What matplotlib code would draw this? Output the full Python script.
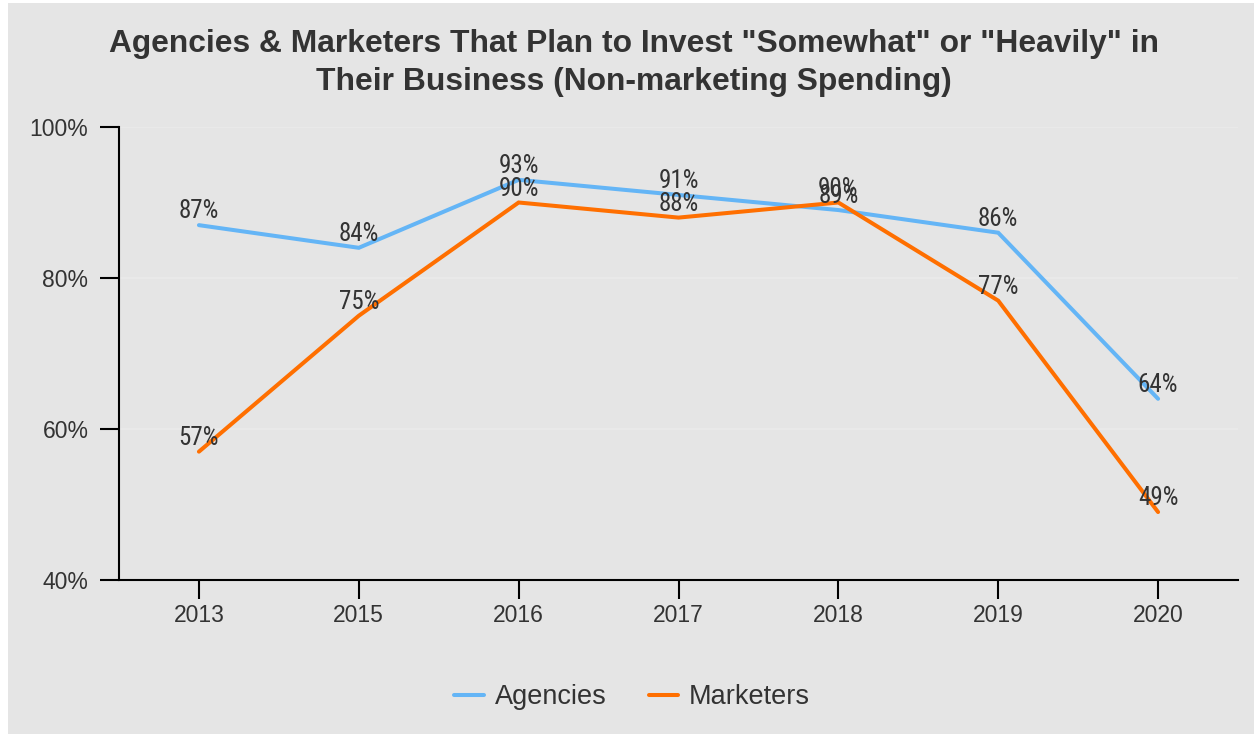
import matplotlib
matplotlib.use("Agg")
import matplotlib.pyplot as plt
from matplotlib import font_manager as fm
from matplotlib.patches import Rectangle

years = ["2013", "2015", "2016", "2017", "2018", "2019", "2020"]
agencies = [87, 84, 93, 91, 89, 86, 64]
marketers = [57, 75, 90, 88, 90, 77, 49]
y_ticks = [40, 60, 80, 100]
y_tick_labels = ["40%", "60%", "80%", "100%"]

BLUE = "#64b5f6"
ORANGE = "#ff6f00"
TEXT = "#333333"
BG = "#e5e5e5"

# pick a narrow face for the point labels
names = {f.name for f in fm.fontManager.ttflist}
label_family = "DejaVu Sans"
label_stretch = "normal"
for cand in ["Roboto Condensed", "Liberation Sans Narrow", "Open Sans Condensed"]:
    if cand in names:
        label_family = cand
        break
else:
    path = fm.findfont(fm.FontProperties(family="DejaVu Sans", stretch="condensed"))
    if "Condensed" in path:
        label_stretch = "condensed"

plt.rcParams["font.family"] = ["Liberation Sans", "DejaVu Sans"]

fig = plt.figure(figsize=(12.54, 7.34), dpi=100, facecolor="white")
fig.patches.append(Rectangle((8 / 1254, 0), 1, (734 - 3) / 734,
                             transform=fig.transFigure, facecolor=BG,
                             edgecolor="none", zorder=-10))

ax = fig.add_axes([119 / 1254, 1 - 580 / 734, (1238 - 119) / 1254, (580 - 127) / 734])
ax.set_facecolor(BG)
x = list(range(len(years)))

ax.plot(x, agencies, color=BLUE, lw=2.9, solid_capstyle="round",
        solid_joinstyle="miter", label="Agencies", zorder=3)
ax.plot(x, marketers, color=ORANGE, lw=2.9, solid_capstyle="round",
        solid_joinstyle="miter", label="Marketers", zorder=4)

for series in (agencies, marketers):
    for xi, v in zip(x, series):
        ax.annotate(f"{v}%", (xi, v), xytext=(0, 5), textcoords="offset points",
                    ha="center", va="baseline", fontsize=18, color=TEXT,
                    family=label_family, fontstretch=label_stretch, zorder=5)

ax.set_xlim(-0.5, len(years) - 0.5)
ax.set_ylim(40, 100)
ax.set_xticks(x)
ax.set_xticklabels(years)
ax.set_yticks(y_ticks)
ax.set_yticklabels(y_tick_labels)

for s in ("top", "right"):
    ax.spines[s].set_visible(False)
for s in ("left", "bottom"):
    ax.spines[s].set_color("black")
    ax.spines[s].set_linewidth(1.5)

ax.tick_params(axis="both", length=14, width=1.5, color="black",
               labelsize=16.5, labelcolor=TEXT)
ax.tick_params(axis="y", pad=8)
ax.tick_params(axis="x", pad=3)

ax.yaxis.grid(True, color="#ebebeb", lw=1.2)
ax.set_axisbelow(True)

fig.text(634 / 1254, 1 - 29 / 734,
         "Agencies & Marketers That Plan to Invest \"Somewhat\" or \"Heavily\" in\n"
         "Their Business (Non-marketing Spending)",
         ha="center", va="top", fontsize=22.9, fontweight="bold", color=TEXT,
         linespacing=1.35)

fig.legend(loc="center", bbox_to_anchor=(632 / 1254, 1 - 697 / 734), ncol=2,
           frameon=False, fontsize=19.5, handlelength=1.1, handletextpad=0.4,
           columnspacing=1.56, labelcolor=TEXT)

fig.savefig("out.png", dpi=100, facecolor="white")
